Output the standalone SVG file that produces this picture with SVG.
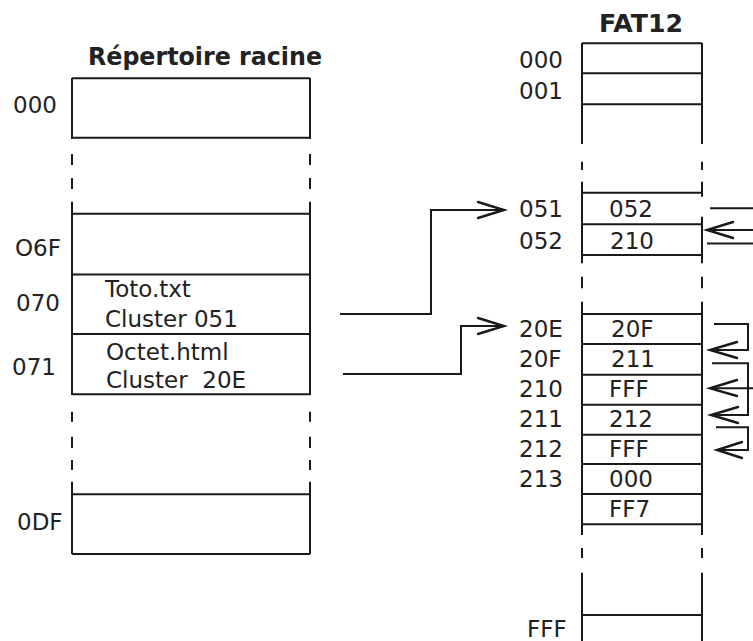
<svg xmlns="http://www.w3.org/2000/svg" width="753" height="641" viewBox="0 0 753 641">
<style>
  .ln{fill:none;stroke:#1a1a1a;stroke-width:2}
  .ar{fill:none;stroke:#1a1a1a;stroke-width:2.4;stroke-linecap:round;stroke-linejoin:miter}
  .t{font-family:"DejaVu Sans",Verdana,sans-serif;font-size:23px;fill:#222}
  .h{font-family:"DejaVu Sans",Verdana,sans-serif;font-size:24px;font-weight:bold;fill:#222}
</style>
<rect width="753" height="641" fill="#fff"/>
<g id="root-dir">
  <text class="h" x="88" y="65" textLength="234" lengthAdjust="spacingAndGlyphs">Répertoire racine</text>
  <path class="ln" d="M72 78 V139 M72 154 V165 M72 178 V189 M72 201.7 V395 M72 411.7 V421.7 M72 436.7 V448 M72 460 V470 M72 481.7 V554 M310 78 V139 M310 154 V165 M310 178 V189 M310 201.7 V395 M310 411.7 V421.7 M310 436.7 V448 M310 460 V470 M310 481.7 V554"/>
  <path class="ln" d="M72 78.3 H310 M72 137.7 H310 M72 213.7 H310 M72 274.5 H310 M72 334 H310 M72 394.3 H310 M72 494.3 H310 M72 554 H310"/>
  <g id="dir-000"><text class="t" x="13" y="112.5">000</text></g>
  <g id="dir-06F"><text class="t" x="15" y="256">O6F</text></g>
  <g id="dir-070"><text class="t" x="16" y="311">070</text><text class="t" x="105" y="297">Toto.txt</text><text class="t" x="105" y="327">Cluster 051</text></g>
  <g id="dir-071"><text class="t" x="12" y="374.5">071</text><text class="t" x="106" y="360">Octet.html</text><text class="t" x="106" y="388" xml:space="preserve">Cluster  20E</text></g>
  <g id="dir-0DF"><text class="t" x="17" y="529.5">0DF</text></g>
</g>
<g id="fat12">
  <text class="h" x="599" y="32" textLength="84" lengthAdjust="spacingAndGlyphs">FAT12</text>
  <path class="ln" d="M582 43 V144 M582 161.7 V170 M582 181.7 V263.3 M582 276.7 V288.3 M582 301.7 V535 M582 548 V558 M582 572.7 V641 M702 43 V144 M702 161.7 V170 M702 181.7 V196.7 M702 216.7 V263.3 M702 276.7 V288.3 M702 301.7 V535 M702 548 V558 M702 572.7 V641"/>
  <path class="ln" d="M582 43.3 H702 M582 73.3 H702 M582 104.3 H702 M582 192.7 H702 M582 224.3 H702 M582 255 H702 M582 314 H702 M582 344 H702 M582 374.7 H702 M582 404.7 H702 M582 434.7 H702 M582 464 H702 M582 494 H702 M582 524.3 H702 M582 615 H702"/>
  <g id="fat-000"><text class="t" x="519" y="68">000</text></g>
  <g id="fat-001"><text class="t" x="519" y="98.5">001</text></g>
  <g id="fat-051"><text class="t" x="519" y="216.7">051</text><text class="t" x="609" y="216.7">052</text></g>
  <g id="fat-052"><text class="t" x="519" y="249">052</text><text class="t" x="610" y="249">210</text></g>
  <g id="fat-20E"><text class="t" x="519" y="336.7">20E</text><text class="t" x="611" y="336.7">20F</text></g>
  <g id="fat-20F"><text class="t" x="519" y="367">20F</text><text class="t" x="611" y="367">211</text></g>
  <g id="fat-210"><text class="t" x="519" y="396.7">210</text><text class="t" x="609" y="396.7">FFF</text></g>
  <g id="fat-211"><text class="t" x="519" y="426.7">211</text><text class="t" x="609" y="426.7">212</text></g>
  <g id="fat-212"><text class="t" x="519" y="456.7">212</text><text class="t" x="609" y="456.7">FFF</text></g>
  <g id="fat-213"><text class="t" x="519" y="486.7">213</text><text class="t" x="609" y="486.7">000</text></g>
  <g id="fat-214"><text class="t" x="609" y="516.7">FF7</text></g>
  <g id="fat-FFF"><text class="t" x="527" y="636.5">FFF</text></g>
</g>
<g id="connectors">
  <path class="ln" d="M340 314 H431 V210 H503"/>
  <path class="ar" d="M478 202 L504 210 L478 218"/>
  <path class="ln" d="M343 374 H461 V326 H503"/>
  <path class="ar" d="M478 318 L504 326 L478 334"/>
  <path class="ln" d="M710 208.3 H753"/>
  <path class="ln" d="M753 230 H708"/>
  <path class="ar" d="M733 222 L707 230 L733 238"/>
  <path class="ln" d="M707 243.5 H753"/>
  <path class="ln" d="M714 324 H748 V350 H711"/>
  <path class="ar" d="M737 342 L710 350 L737 358"/>
  <path class="ln" d="M712 363.3 H748 V415 H712"/>
  <path class="ar" d="M738 407 L711 415 L738 423"/>
  <path class="ln" d="M753 388.3 H711"/>
  <path class="ar" d="M737 380 L710 388.3 L737 396"/>
  <path class="ln" d="M716 427.3 H748 V450 H718"/>
  <path class="ar" d="M742 442 L717 450 L742 458"/>
</g>
</svg>
